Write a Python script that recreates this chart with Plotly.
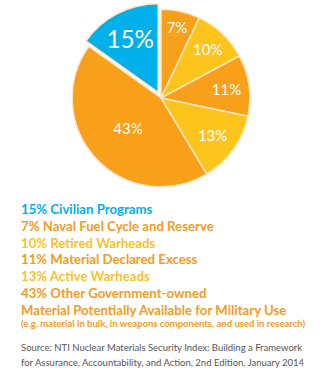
import plotly.graph_objects as go

# Data (clockwise from 12 o'clock)
slice_labels = ["Naval Fuel Cycle and Reserve", "Retired Warheads", "Material Declared Excess",
                "Active Warheads", "Other Government-owned Material Potentially Available for Military Use",
                "Civilian Programs"]
slice_values = [7, 10, 11, 13, 43, 15]
slice_text = ["7%", "10%", "11%", "13%", "43%", "15%"]

BLUE = "#00B0EA"
ORANGE = "#F9A01B"
YELLOW = "#FDC41C"
slice_colors = [ORANGE, YELLOW, ORANGE, YELLOW, ORANGE, BLUE]
slice_pull = [0, 0, 0, 0, 0, 0.07]
slice_text_sizes = [15, 15, 15, 15, 15, 30]

legend_lines = [
    "15% Civilian Programs",
    "7% Naval Fuel Cycle and Reserve",
    "10% Retired Warheads",
    "11% Material Declared Excess",
    "13% Active Warheads",
    "43% Other Government-owned",
    "Material Potentially Available for Military Use",
]
legend_colors = [BLUE, "#F59B1E", "#FBC12D", "#F59B1E", "#FBC12D", "#F59B1E", "#F59B1E"]
note_line = "(e.g. material in bulk, in weapons components, and used in research)"
source_lines = [
    "Source: NTI Nuclear Materials Security Index: Building a Framework",
    "for Assurance, Accountability, and Action, 2nd Edition, January 2014",
]

W, H = 322, 380
FONT = "Lato"

fig = go.Figure()
fig.add_trace(go.Pie(
    labels=slice_labels,
    values=slice_values,
    text=slice_text,
    textinfo="text",
    textposition="inside",
    insidetextorientation="horizontal",
    textfont=dict(color="white", size=slice_text_sizes, family=FONT),
    marker=dict(colors=slice_colors, line=dict(color="#FCE6C4", width=1.5)),
    sort=False,
    direction="clockwise",
    rotation=0,
    pull=slice_pull,
    hole=0,
    domain=dict(x=[0.03, 0.97], y=[1 - 193 / H, 1 - 3 / H]),
    showlegend=False,
))

annotations = []
y0 = 209
step = 16.8
for i, (t, c) in enumerate(zip(legend_lines, legend_colors)):
    annotations.append(dict(
        text=f"<b>{t}</b>", x=19 / W, y=1 - (y0 + i * step) / H,
        xref="paper", yref="paper", xanchor="left", yanchor="middle",
        showarrow=False, font=dict(family=FONT, size=13.2, color=c)))
annotations.append(dict(
    text=f"<b>{note_line}</b>", x=19 / W, y=1 - 323 / H,
    xref="paper", yref="paper", xanchor="left", yanchor="middle",
    showarrow=False, font=dict(family=FONT, size=9.5, color="#F59B1E")))
for i, t in enumerate(source_lines):
    annotations.append(dict(
        text=t, x=19 / W, y=1 - (347 + i * 15) / H,
        xref="paper", yref="paper", xanchor="left", yanchor="middle",
        showarrow=False, font=dict(family=FONT, size=9.5, color="#555555")))

fig.update_layout(
    width=W, height=H,
    margin=dict(l=0, r=0, t=0, b=0),
    paper_bgcolor="white", plot_bgcolor="white",
    annotations=annotations,
)
fig.write_html("out.html")
